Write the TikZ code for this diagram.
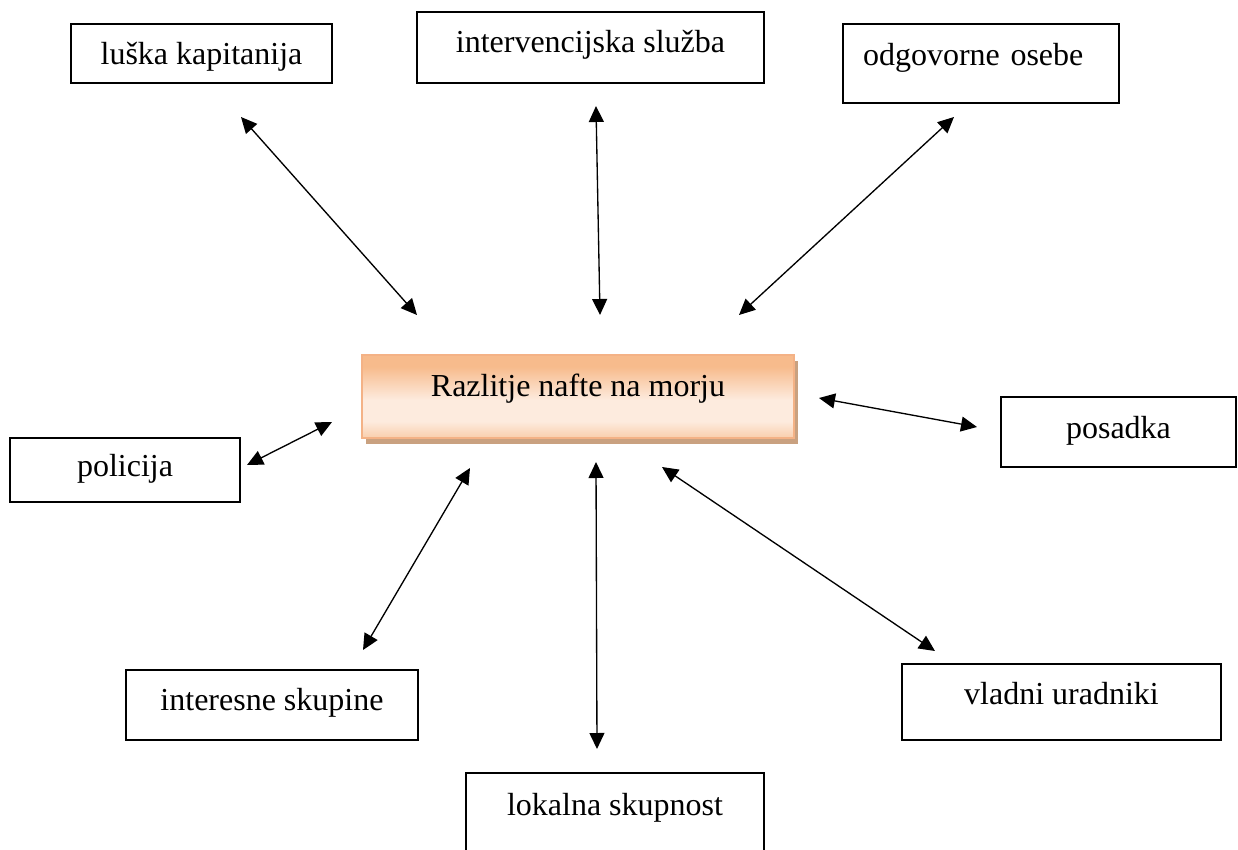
\documentclass[tikz,border=0pt]{standalone}
\usepackage{fontspec}
\setmainfont{Liberation Serif}
\usetikzlibrary{arrows.meta,shadows}
\definecolor{spilltop}{RGB}{247,187,140}
\definecolor{spilllight}{RGB}{253,235,222}
\definecolor{spillbot}{RGB}{249,206,172}
\definecolor{spillborder}{RGB}{244,178,134}
\definecolor{spillshadow}{RGB}{201,161,128}
\pgfdeclareverticalshading{spill}{100bp}{color(0bp)=(spillbot); color(25bp)=(spillbot); color(35bp)=(spilllight); color(48bp)=(spilllight); color(68bp)=(spilltop); color(100bp)=(spilltop)}
\tikzset{
  actor/.style={draw, line width=0.75pt, inner sep=0pt, font=\fontsize{12pt}{14pt}\selectfont},
  boxdim/.style 2 args={minimum width=#1*0.375pt, minimum height=#2*0.375pt},
  baselift/.style={text height=5.5pt+(#1), text depth=5.5pt-(#1)},
  link/.style={{Triangle[length=6pt,width=5.6pt]}-{Triangle[length=6pt,width=5.6pt]}, line width=0.5pt},
}
\begin{document}
\begin{tikzpicture}[x=0.375pt,y=-0.375pt]
  \useasboundingbox (0,0) rectangle (1238,850);
  \clip (0,0) rectangle (1238,850);
  % centre
  \node[actor, draw=spillborder, line width=0.6pt, shading=spill,
    drop shadow={shadow xshift=1.5pt,shadow yshift=-2.4pt,fill=spillshadow,opacity=1},
    boxdim={432}{83}, baselift=0pt] (spill) at (578,396.5) {Razlitje nafte na morju};
  % boxes round it
  \node[actor, boxdim={261}{59}, baselift=4.3pt] (kapitanija) at (201.5,53.5) {luška kapitanija};
  \node[actor, boxdim={347}{71}, baselift=2pt] (sluzba) at (590.5,47.5) {intervencijska služba};
  \node[actor, boxdim={276}{79}, baselift=0.6pt, text width=88.5pt, align=left, inner xsep=7.5pt] (osebe) at (981,63.5) {odgovorne osebe};
  \node[actor, boxdim={235}{70}, baselift=2.25pt] (posadka) at (1118.5,432) {posadka};
  \node[actor, boxdim={230}{64}, baselift=2.6pt] (policija) at (125,470) {policija};
  \node[actor, boxdim={292}{70}, baselift=1.9pt] (skupine) at (272,705) {interesne skupine};
  \node[actor, boxdim={319}{76}, baselift=1.1pt] (uradniki) at (1061.5,702) {vladni uradniki};
  \node[actor, boxdim={298}{100}, baselift=-3pt] (skupnost) at (615,823) {lokalna skupnost};
  % arrow ends
  \coordinate (kapitanija-a) at (241,117);  \coordinate (kapitanija-b) at (417,315);
  \coordinate (sluzba-a) at (596,106);      \coordinate (sluzba-b) at (600,315);
  \coordinate (osebe-a) at (954,117);       \coordinate (osebe-b) at (739,315);
  \coordinate (posadka-a) at (977,427);     \coordinate (posadka-b) at (819,398);
  \coordinate (policija-a) at (247,465);    \coordinate (policija-b) at (332,422);
  \coordinate (skupine-a) at (363,650);     \coordinate (skupine-b) at (470,468);
  \coordinate (skupnost-a) at (597,749);    \coordinate (skupnost-b) at (596,462);
  \coordinate (uradniki-a) at (935,651);    \coordinate (uradniki-b) at (662,467);
  \foreach \n in {kapitanija,sluzba,osebe,posadka,policija,skupine,skupnost,uradniki}
    \draw[link] (\n-a) -- (\n-b);
\end{tikzpicture}
\end{document}
